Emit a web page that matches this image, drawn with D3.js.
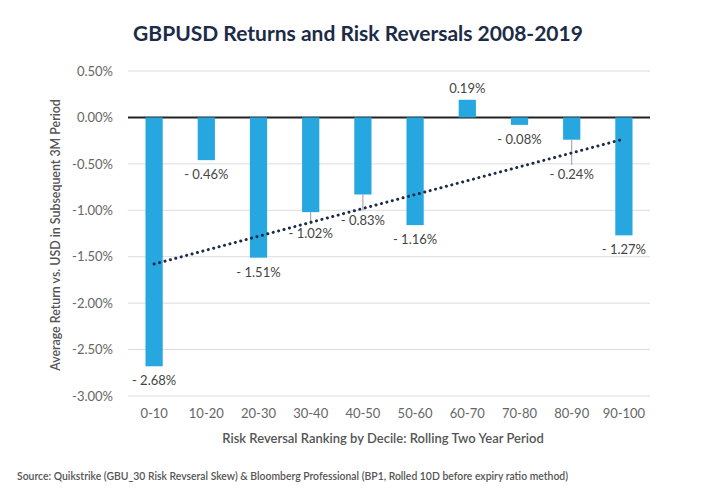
<!DOCTYPE html>
<html>
<head>
<meta charset="utf-8">
<script src="https://cdn.jsdelivr.net/npm/d3@7"></script>
<style>
  body { margin: 0; background: #fff; }
  text { font-family: Lato, "Open Sans", sans-serif; }
</style>
</head>
<body>
<div class="chart"></div>
<script>
// decile buckets and average 3M return (in %)
var deciles = ["0-10", "10-20", "20-30", "30-40", "40-50", "50-60", "60-70", "70-80", "80-90", "90-100"];
var returns = [-2.68, -0.46, -1.51, -1.02, -0.83, -1.16, 0.19, -0.08, -0.24, -1.27];
var yTicks = [0.5, 0, -0.5, -1, -1.5, -2, -2.5, -3];

var width = 720, height = 500;
var plotL = 128, plotR = 650, plotT = 71, plotB = 396;

var svg = d3.select(".chart").append("svg")
    .attr("width", width)
    .attr("height", height);

var x = d3.scaleBand().domain(deciles).range([plotL, plotR]).paddingInner(0.67).paddingOuter(0.335);
var y = d3.scaleLinear().domain([-3, 0.5]).range([plotB, plotT]);

svg.append("text")
    .attr("x", 358).attr("y", 41)
    .attr("text-anchor", "middle")
    .style("font-size", "21px")
    .style("font-weight", "bold")
    .style("fill", "#1c2b47")
    .text("GBPUSD Returns and Risk Reversals 2008-2019");

// grid
svg.append("g").selectAll("line")
    .data(yTicks)
    .enter().append("line")
    .attr("x1", plotL).attr("x2", plotR)
    .attr("y1", function(d) { return y(d); })
    .attr("y2", function(d) { return y(d); })
    .style("stroke", function(d) { return d == 0 ? "#222" : "#dcdcdc"; })
    .style("stroke-width", function(d) { return d == 0 ? 2 : 1; });

var yAxis = svg.append("g")
    .attr("transform", "translate(" + (plotL - 12) + ",0)")
    .call(d3.axisLeft(y).tickValues(yTicks).tickSize(0)
        .tickFormat(function(d) { return d.toFixed(2) + "%"; }));
yAxis.select(".domain").remove();
yAxis.selectAll("text").style("font-size", "13px").style("fill", "#666");

var xAxis = svg.append("g")
    .attr("transform", "translate(0," + plotB + ")")
    .call(d3.axisBottom(x).tickSize(0));
xAxis.select(".domain").remove();
xAxis.selectAll("text").attr("dy", "1.45em").style("font-size", "13px").style("fill", "#666");

svg.append("text")
    .attr("transform", "translate(60,235) rotate(-90)")
    .attr("text-anchor", "middle")
    .style("font-size", "12.4px")
    .style("font-weight", "600")
    .style("fill", "#555")
    .text("Average Return vs. USD in Subsequent 3M Period");

svg.append("text")
    .attr("x", 383).attr("y", 443)
    .attr("text-anchor", "middle")
    .style("font-size", "13px")
    .style("font-weight", "600")
    .style("fill", "#555")
    .text("Risk Reversal Ranking by Decile: Rolling Two Year Period");

svg.append("text")
    .attr("x", 17).attr("y", 480)
    .style("font-size", "10.4px")
    .style("font-weight", "600")
    .style("fill", "#555")
    .text("Source: Quikstrike (GBU_30 Risk Revseral Skew) & Bloomberg Professional (BP1, Rolled 10D before expiry ratio method)");

svg.append("g").selectAll("rect")
    .data(returns)
    .enter().append("rect")
    .attr("x", function(d, i) { return x(deciles[i]); })
    .attr("width", x.bandwidth())
    .attr("y", function(d) { return y(Math.max(0, d)); })
    .attr("height", function(d) { return Math.abs(y(d) - y(0)); })
    .style("fill", "#26a7df");

// extra push-down (px) for labels that sit below the trend line
var leader = {3: 7, 4: 11, 8: 20};

returns.forEach(function(d, i) {
    var cx = x(deciles[i]) + x.bandwidth() / 2;
    var end = y(d);
    var extra = leader[i] || 0;
    if (extra) {
        svg.append("line")
            .attr("x1", cx).attr("x2", cx)
            .attr("y1", end).attr("y2", end + extra + 5)
            .style("stroke", "#999").style("stroke-width", 1);
    }
    var ly = d >= 0 ? end - 7 : end + 19 + extra;
    svg.append("text")
        .attr("x", cx).attr("y", ly)
        .attr("text-anchor", "middle")
        .style("font-size", "13px")
        .style("fill", "#444")
        .text(d >= 0 ? d.toFixed(2) + "%" : "- " + Math.abs(d).toFixed(2) + "%");
});

// linear trend through the bars
var n = returns.length;
var mx = d3.mean(returns, function(d, i) { return i; });
var my = d3.mean(returns);
var sxy = d3.sum(returns, function(d, i) { return (i - mx) * (d - my); });
var sxx = d3.sum(returns, function(d, i) { return (i - mx) * (i - mx); });
var slope = sxy / sxx, icpt = my - slope * mx;

var line = d3.line()
    .x(function(i) { return x(deciles[i]) + x.bandwidth() / 2; })
    .y(function(i) { return y(icpt + slope * i); });

svg.append("path")
    .datum([0, n - 1])
    .attr("d", line)
    .style("fill", "none")
    .style("stroke", "#1c2b47")
    .style("stroke-width", 3)
    .style("stroke-linecap", "round")
    .style("stroke-dasharray", "0.1,5.5");
</script>
</body>
</html>
